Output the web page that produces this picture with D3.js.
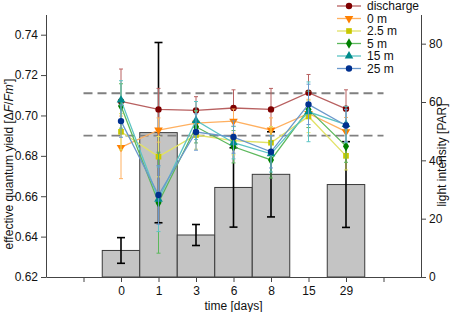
<!DOCTYPE html>
<html>
<head>
<meta charset="utf-8">
<script src="https://cdn.jsdelivr.net/npm/d3@7"></script>
<style>
  body { margin: 0; background: #fff; }
  svg { font-family: "Liberation Sans", Arial, sans-serif; }
  .axis text { font-size: 12px; fill: #111; }
  .axis path, .axis line { stroke: #444; }
</style>
</head>
<body>
<div class="chart"></div>
<script>
const WIDTH = 454;
const HEIGHT = 312;

// x positions: -2 .. 8 on the axis, days sit at 0..6
var days = ["0", "1", "3", "6", "8", "15", "29"];

// light intensity bars (right axis)
var light = [9.1, 49.5, 14.4, 30.7, 35.2, null, 31.7];
var lightSd = [4.4, 30.9, 3.6, 13.6, 14.6, null, 14.7];

// quantum yield series (left axis)
var seriesNames = ["discharge", "0 m", "2.5 m", "5 m", "15 m", "25 m"];
var discharge = [0.707, 0.703, 0.7025, 0.7037, 0.703, 0.7113, 0.7033];
var dischargeSd = [0.016, 0.0104, 0.0068, 0.009, 0.0104, 0.009, 0.0094];
var m0 = [0.6842, 0.6928, 0.6962, 0.6972, 0.6928, 0.701, 0.692];
var m0Sd = [0.0155, 0.006, 0.006, 0.006, 0.006, 0.007, 0.007];
var m2_5 = [0.6919, 0.6796, 0.6903, 0.6875, 0.6865, 0.6995, 0.680];
var m2_5Sd = [0.009, 0.01, 0.007, 0.007, 0.008, 0.008, 0.007];
var m5 = [0.7047, 0.6568, 0.6944, 0.6845, 0.678, 0.703, 0.6848];
var m5Sd = [0.011, 0.025, 0.008, 0.008, 0.009, 0.009, 0.008];
var m15 = [0.7076, 0.6585, 0.6975, 0.6865, 0.681, 0.7018, 0.6955];
var m15Sd = [0.0096, 0.016, 0.0094, 0.008, 0.009, 0.0148, 0.009];
var m25 = [0.6972, 0.6606, 0.6918, 0.6893, 0.682, 0.7055, 0.695];
var m25Sd = [0.008, 0.0146, 0.009, 0.008, 0.008, 0.010, 0.008];

var refLines = [0.711, 0.690];

var leftTicks = [0.62, 0.64, 0.66, 0.68, 0.70, 0.72, 0.74];
var rightTicks = [0, 20, 40, 60, 80];

var seriesValues = [discharge, m0, m2_5, m5, m15, m25];
var seriesSds = [dischargeSd, m0Sd, m2_5Sd, m5Sd, m15Sd, m25Sd];
var markerColors = ["#7f0000", "#ff8000", "#c8c800", "#008000", "#008b8b", "#00308f"];
var lineColors = ["#b86060", "#ffb060", "#e2e266", "#5cb85c", "#5cc4c4", "#6a98cc"];
var symbols = [d3.symbolCircle, d3.symbolTriangle, d3.symbolSquare, d3.symbolDiamond, d3.symbolTriangle, d3.symbolCircle];
var flips = [false, true, false, false, false, false];

var translate = function (x, y) {
    return "translate(" + x + "," + y + ")";
};

var svg = d3.select('.chart').append('svg')
    .attr('width', WIDTH)
    .attr('height', HEIGHT);

var xScale = d3.scaleLinear().domain([-2, 8]).range([46, 421]);
var yLeft = d3.scaleLinear().domain([0.62, 0.75]).range([277, 14.5]);
var yRight = d3.scaleLinear().domain([0, 90]).range([277, 14.5]);

// bars
var barData = light.map(function (v, i) { return {i: i, v: v, sd: lightSd[i]}; })
    .filter(function (d) { return d.v !== null; });

svg.append('g').selectAll('rect').data(barData).enter().append('rect')
    .attr('x', function (d) { return xScale(d.i - 0.5); })
    .attr('width', function (d) { return xScale(d.i + 0.5) - xScale(d.i - 0.5); })
    .attr('y', function (d) { return yRight(d.v); })
    .attr('height', function (d) { return yRight(0) - yRight(d.v); })
    .attr('fill', '#c4c4c4')
    .attr('stroke', '#3a3a3a')
    .attr('stroke-width', 1);

var barErr = svg.append('g').attr('stroke', '#000').attr('stroke-width', 1.6);
barData.forEach(function (d) {
    var x = xScale(d.i);
    barErr.append('line').attr('x1', x).attr('x2', x)
        .attr('y1', yRight(d.v - d.sd)).attr('y2', yRight(d.v + d.sd));
    [d.v - d.sd, d.v + d.sd].forEach(function (e) {
        barErr.append('line').attr('x1', x - 4).attr('x2', x + 4)
            .attr('y1', yRight(e)).attr('y2', yRight(e));
    });
});

// dashed reference lines
svg.append('g').selectAll('line').data(refLines).enter().append('line')
    .attr('x1', xScale(-1)).attr('x2', xScale(7))
    .attr('y1', function (d) { return yLeft(d); })
    .attr('y2', function (d) { return yLeft(d); })
    .attr('stroke', '#808080')
    .attr('stroke-width', 1.8)
    .attr('stroke-dasharray', '9,5');

// series
var line = d3.line()
    .x(function (d, i) { return xScale(i); })
    .y(function (d) { return yLeft(d); });

seriesValues.forEach(function (vals, k) {
    var g = svg.append('g');
    vals.forEach(function (v, i) {
        var x = xScale(i), sd = seriesSds[k][i];
        g.append('line').attr('x1', x).attr('x2', x)
            .attr('y1', yLeft(v - sd)).attr('y2', yLeft(v + sd))
            .attr('stroke', lineColors[k]).attr('stroke-width', 1);
        [v - sd, v + sd].forEach(function (e) {
            g.append('line').attr('x1', x - 2).attr('x2', x + 2)
                .attr('y1', yLeft(e)).attr('y2', yLeft(e))
                .attr('stroke', lineColors[k]).attr('stroke-width', 1);
        });
    });
    g.append('path').attr('d', line(vals))
        .attr('fill', 'none').attr('stroke', lineColors[k]).attr('stroke-width', 1.3);
    g.selectAll('path.mk').data(vals).enter().append('path')
        .attr('class', 'mk')
        .attr('d', d3.symbol().type(symbols[k]).size(32))
        .attr('transform', function (d, i) {
            return translate(xScale(i), yLeft(d)) + (flips[k] ? ' rotate(180)' : '');
        })
        .attr('fill', markerColors[k]);
});

// axes
svg.append('g').attr('class', 'axis')
    .attr('transform', translate(46, 0))
    .call(d3.axisLeft(yLeft).tickValues(leftTicks).tickFormat(d3.format('.2f')).tickSize(5).tickSizeOuter(0));

svg.append('g').attr('class', 'axis right')
    .attr('transform', translate(421, 0))
    .call(d3.axisRight(yRight).tickValues(rightTicks).tickSize(5).tickSizeOuter(0));
svg.selectAll('.right path, .right line').attr('stroke', '#777');

svg.append('g').attr('class', 'axis')
    .attr('transform', translate(0, 277))
    .call(d3.axisBottom(xScale).tickValues(d3.range(-1, 8))
        .tickFormat(function (d) { return d >= 0 && d < days.length ? days[d] : ''; })
        .tickSize(5).tickSizeOuter(0))
    .selectAll('text').attr('dy', '0.85em');

// axis titles
var lt = svg.append('text')
    .attr('transform', translate(13, 164) + ' rotate(-90)')
    .attr('text-anchor', 'middle')
    .attr('font-size', 12)
    .attr('fill', '#111');
lt.append('tspan').text('effective quantum yield [\u0394');
lt.append('tspan').attr('font-style', 'italic').text('F');
lt.append('tspan').text('/');
lt.append('tspan').attr('font-style', 'italic').text('Fm');
lt.append('tspan').text('\']');

svg.append('text')
    .attr('transform', translate(446, 155) + ' rotate(-90)')
    .attr('text-anchor', 'middle')
    .attr('font-size', 12)
    .attr('fill', '#111')
    .text('light intensity [PAR]');

svg.append('text')
    .attr('x', xScale(3)).attr('y', 310)
    .attr('text-anchor', 'middle')
    .attr('font-size', 12)
    .attr('fill', '#111')
    .text('time [days]');

// legend
var legend = svg.append('g').attr('transform', translate(337, 6));
seriesNames.forEach(function (name, k) {
    var row = legend.append('g').attr('transform', translate(0, k * 12.5));
    row.append('line').attr('x1', 0).attr('x2', 24).attr('y1', 0).attr('y2', 0)
        .attr('stroke', lineColors[k]).attr('stroke-width', 1.3);
    row.append('path')
        .attr('d', d3.symbol().type(symbols[k]).size(32))
        .attr('transform', translate(12, 0) + (flips[k] ? ' rotate(180)' : ''))
        .attr('fill', markerColors[k]);
    row.append('text').attr('x', 30).attr('y', 4)
        .attr('font-size', 12).attr('fill', '#111')
        .text(name);
});
</script>
</body>
</html>
